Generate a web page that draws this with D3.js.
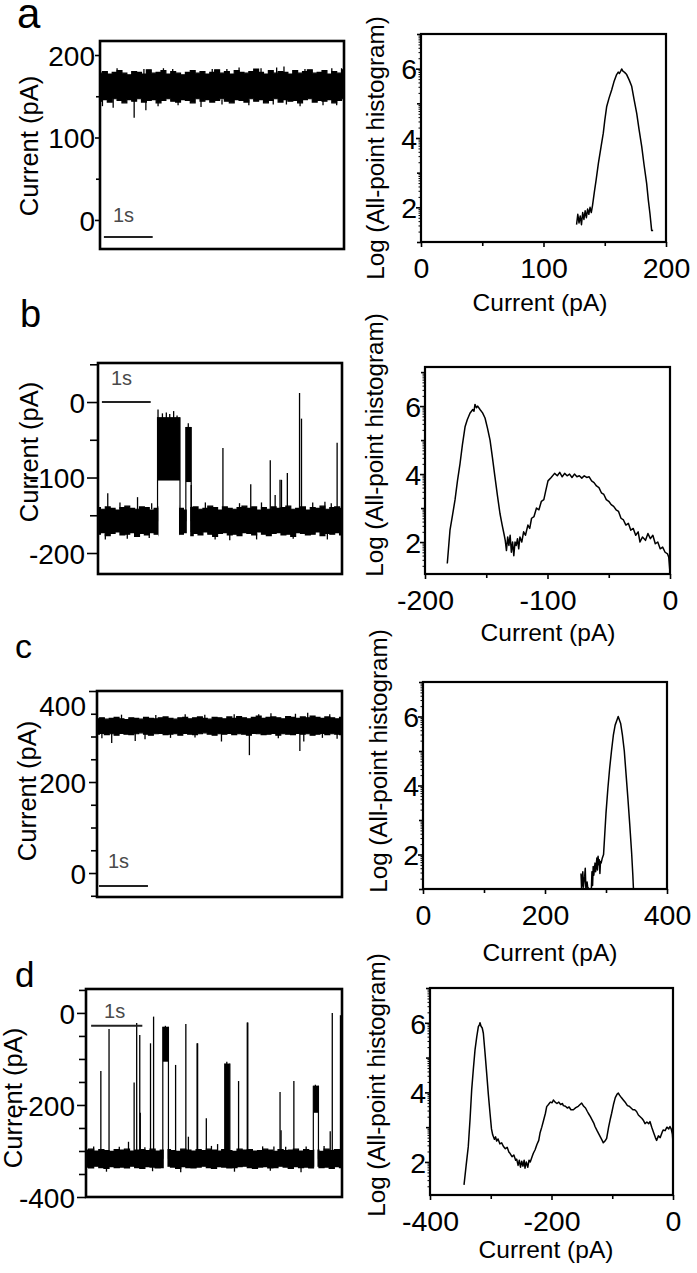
<!DOCTYPE html>
<html><head><meta charset="utf-8">
<script src="https://cdn.jsdelivr.net/npm/d3@7"></script>
<style>
body{margin:0;background:#fff;}
svg text{font-family:"Liberation Sans",Arial,sans-serif;fill:#000;}
</style></head>
<body><svg id="chart" width="697" height="1273"></svg>
<script>
// ---------------- DATA ----------------
const panelLetters = ["a", "b", "c", "d"];
const traceYLabel = "Current (pA)";
const histYLabel = "Log (All-point histogram)";
const histXLabel = "Current (pA)";
const scaleBarText = "1s";
const scaleBarSeconds = 1;
const traceDuration = 5;   // s, each trace window

// baseline noise envelopes (pA), sampled every 0.1 s from 0 to 5 s
const aHi = [178,180,177,179,181,178,176,180,179,177,182,178,179,181,177,180,178,176,179,181,178,180,177,179,182,178,180,177,181,179,178,180,183,179,177,181,178,180,179,177,181,178,180,182,178,179,181,177,180,178,182];
const aLo = [144,146,143,147,145,142,146,144,147,143,145,146,142,145,147,144,143,146,145,142,147,144,146,143,145,147,144,142,146,145,143,147,144,146,142,145,147,143,146,144,145,142,146,147,143,145,144,146,142,145,147];
const bHi = [-140,-142,-139,-141,-143,-140,-138,-141,-142,-139,-140,-143,-141,-139,-142,-140,-138,-141,-143,-140,-139,-142,-141,-138,-140,-143,-139,-141,-142,-140,-138,-141,-139,-143,-140,-142,-139,-141,-140,-138,-142,-141,-139,-143,-140,-141,-138,-142,-140,-139,-141];
const bLo = [-175,-173,-177,-174,-172,-176,-175,-173,-178,-174,-176,-173,-175,-177,-174,-172,-176,-175,-173,-177,-174,-176,-172,-175,-178,-174,-173,-176,-175,-177,-173,-174,-176,-172,-175,-177,-174,-173,-176,-175,-178,-173,-174,-176,-175,-172,-177,-174,-175,-173,-176];
const cHi = [339,341,338,340,342,339,337,341,340,338,342,340,339,341,343,340,338,341,342,339,341,343,340,338,342,341,339,343,340,344,341,339,342,345,340,342,343,341,339,344,342,340,343,341,345,342,340,343,341,339,342];
const cLo = [305,307,304,306,303,307,305,304,306,308,305,303,306,307,304,305,306,303,307,305,304,306,308,305,303,306,305,307,304,306,305,303,307,306,304,305,307,303,306,305,304,307,305,306,303,305,307,304,306,305,304];
const dHi = [-298,-296,-300,-297,-299,-301,-297,-298,-296,-300,-298,-297,-299,-296,-300,-298,-297,-299,-301,-296,-298,-300,-297,-299,-296,-298,-300,-297,-299,-301,-296,-298,-297,-300,-299,-296,-298,-301,-297,-299,-298,-296,-300,-297,-299,-298,-301,-296,-299,-297,-298];
const dLo = [-335,-337,-333,-336,-338,-334,-336,-335,-337,-333,-336,-338,-334,-335,-337,-336,-333,-335,-338,-334,-336,-337,-335,-333,-336,-338,-334,-335,-337,-336,-334,-333,-336,-338,-335,-334,-337,-336,-333,-335,-338,-334,-336,-335,-337,-333,-336,-335,-338,-334,-336];

// blocking events: [start s, end s, upper pA, lower pA, baseline absent (1) or not (0)]
const blocksA = [];
const blocksB = [[1.22,1.68,-20,-104,1],[1.80,1.91,-33,-106,1]];
const blocksC = [];
const blocksD = [[1.50,1.61,-30,-106,1],[2.71,2.81,-110,-318,0],[4.44,4.54,-158,-217,1]];

// spikes: [time s, from pA, to pA]
const spikesA = [[0.27,150,136],[0.70,150,124],[0.94,150,133],[1.19,150,138],[2.07,150,137],[3.82,150,140],[4.57,150,139],[1.49,175,183],[3.62,175,185],[3.77,175,186],[2.6,175,183],[4.95,175,184],
  [0.35,176,184],[0.9,176,183],[1.3,176,184],[2.3,176,183],[2.85,176,185],[3.3,176,184],[4.2,176,183],[4.75,176,184],[0.05,146,138],[1.6,146,139],[2.5,146,140],[3.05,146,139],[3.55,146,140],[4.1,146,138],[4.85,146,139]];
const spikesB = [[0.2,-150,-121],[0.81,-150,-126],[2.56,-150,-61],[3.13,-150,-109],[3.53,-150,-77],[3.63,-150,-123],[3.73,-150,-103],[3.76,-150,-103],[3.88,-150,-94],[4.13,-150,12],[4.17,-150,-22],[4.65,-150,-132],[4.9,-150,-54],
  [1.23,-40,-10],[1.32,-40,-15],[1.40,-40,-14],[1.47,-40,-16],[1.55,-40,-12],[1.62,-40,-18],[1.85,-40,-28],[1.91,-110,-172],[2.4,-170,-182],[1.05,-170,-180],
  [0.45,-142,-133],[1.1,-142,-134],[2.2,-142,-133],[2.9,-142,-134],[3.35,-142,-133],[4.4,-142,-133],[4.78,-142,-134],[0.15,-174,-182],[0.6,-174,-181],[2.7,-174,-183],[3.25,-174,-182],[4.0,-174,-181],[4.7,-174,-182]];
const spikesC = [[0.3,315,286],[0.78,315,290],[0.98,315,294],[2.54,315,289],[3.11,315,259],[4.14,315,268],[4.22,315,289],[3.3,335,349],[4.05,335,350],
  [0.5,338,348],[1.2,338,347],[1.8,338,349],[2.2,338,348],[2.8,338,349],[3.55,338,351],[4.3,338,352],[4.75,338,349],[0.1,306,296],[1.5,306,297],[2.0,306,298],[3.7,306,296],[4.6,306,297],[4.9,306,295]];
const spikesD = [[0.29,-310,-126],[0.45,-310,-35],[0.83,-310,-280],[0.94,-310,-151],[0.99,-310,-22],[1.05,-310,-48],[1.06,-310,-217],[1.26,-310,-66],[1.32,-310,-8],[1.75,-310,-113],[1.95,-310,-24],[2.0,-310,-269],[2.17,-310,-66],[2.18,-310,-66],[2.35,-310,-229],[2.57,-310,-285],[2.98,-310,-148],[3.15,-310,-21],[3.16,-310,-21],[3.67,-310,-290],[3.79,-310,-172],[3.81,-310,-255],[4.06,-310,-148],[4.77,-310,-257],[4.81,-310,0],[4.97,-310,-5],[4.98,-310,-261],
  [1.55,-60,-28],[2.75,-200,-106],[4.48,-190,-156],
  [0.15,-300,-290],[0.65,-300,-291],[1.15,-300,-292],[2.45,-300,-289],[3.45,-300,-290],[3.9,-300,-291],[4.3,-300,-290],[4.65,-300,-289],[0.4,-334,-345],[1.3,-334,-344],[1.85,-334,-346],[2.9,-334,-345],[3.6,-334,-343],[4.2,-334,-346]];

// all-point histograms: [current pA, log count]
const histA = [[127,1.5],[128,1.8],[129,1.55],[130,1.75],[131,1.5],[132,1.85],[133,1.65],[134,1.9],[135,1.7],[136,1.95],[137,1.8],[138,2.0],[139,1.85],[140,2.05],[141.5,2.44],[143,2.8],[144.8,3.27],[147,3.75],[148.8,4.14],[150,4.5],[151.6,4.91],[153.5,5.15],[155.7,5.39],[157.5,5.62],[159.7,5.83],[161,5.9],[162,5.86],[163,5.93],[163.8,5.99],[165,5.92],[166,5.9],[167.9,5.83],[170,5.67],[172,5.49],[174,5.1],[176.1,4.71],[178,4.25],[180.2,3.75],[182,3.25],[184.2,2.69],[185.6,2.2],[186.9,1.82],[188.3,1.33],[189.5,1.33]];
const histB = [[-181.8,1.37],[-179.6,2.35],[-177.5,2.8],[-175.5,3.24],[-173.5,3.8],[-171.4,4.31],[-169.5,4.85],[-167.3,5.39],[-165.5,5.6],[-163.3,5.79],[-161,5.9],[-160,5.85],[-159.2,6.05],[-158,5.95],[-157,6.0],[-155.1,5.9],[-153,5.8],[-151,5.65],[-149,5.35],[-146.9,5.0],[-145,4.5],[-142.9,3.92],[-140.8,3.35],[-138.8,2.84],[-137,2.5],[-135.3,2.2],[-134.5,2.05],[-133.5,1.75],[-132.5,2.15],[-131.5,1.9],[-130.5,2.2],[-129.5,1.7],[-128.5,2.0],[-127.5,1.6],[-126.5,2.0],[-125.5,1.9],[-124.5,2.1],[-123.5,1.8],[-122.5,2.15],[-121,2.0],[-119.5,2.3],[-118,2.2],[-116,2.5],[-114.5,2.4],[-113,2.7],[-111,2.75],[-109,3.0],[-107,2.95],[-105,3.2],[-103,3.25],[-101.5,3.5],[-99.6,3.8],[-97,3.9],[-94.2,4.02],[-92,3.95],[-90,4.05],[-88,3.92],[-86,4.02],[-84,3.95],[-82,4.0],[-80,3.9],[-78,4.0],[-76,3.92],[-74,3.95],[-72,3.88],[-70,3.95],[-68,3.9],[-66,3.92],[-64,3.8],[-62,3.75],[-60,3.65],[-58,3.6],[-56,3.45],[-54,3.4],[-52,3.25],[-50,3.2],[-48,3.1],[-46,3.05],[-44,2.95],[-42,2.9],[-40,2.7],[-38,2.65],[-36,2.5],[-34,2.55],[-32,2.35],[-30,2.4],[-28,2.2],[-26,2.3],[-24.5,2.0],[-22.5,2.15],[-20,2.05],[-18,2.25],[-16,2.1],[-14,2.2],[-12,1.95],[-10,2.0],[-8,1.8],[-6,1.85],[-4,1.7],[-2,1.65],[-1,1.55],[0,1.1]];
const histC = [[259,1.45],[260,1.0],[262,1.5],[263,1.05],[265,1.35],[266,1.6],[267,1.0],[269,1.2],[270,1.05],[272,1.0],[276,1.0],[277,1.5],[278,1.1],[279,1.65],[280,1.4],[282,1.75],[283,1.5],[285,1.9],[286,1.55],[287,1.95],[288,1.7],[289,1.85],[290,1.45],[291,1.8],[292,1.75],[294,1.9],[296,2.0],[298,2.6],[300,3.2],[303,3.9],[306,4.5],[309,5.0],[312,5.45],[315,5.75],[318,5.9],[320,6.0],[322,5.9],[324,5.8],[327,5.45],[330,5.0],[333,4.3],[336,3.6],[339,2.85],[342,2.05],[344,1.4],[345,1.0]];
const histD = [[-344,1.34],[-340.5,1.9],[-337,2.44],[-334,3.25],[-331.4,4.07],[-328.5,4.7],[-325.9,5.22],[-323,5.6],[-320.4,5.89],[-318.5,5.95],[-317.7,6.0],[-316,5.9],[-314,5.85],[-312.2,5.7],[-309.5,5.15],[-306.7,4.55],[-304,3.95],[-301.2,3.4],[-298.8,2.95],[-296.8,2.78],[-294,2.65],[-292,2.72],[-290.3,2.6],[-288,2.66],[-285,2.52],[-282,2.55],[-279.3,2.45],[-276,2.38],[-273,2.42],[-270,2.28],[-268.3,2.25],[-265,2.15],[-262,2.2],[-259,2.05],[-257.3,2.08],[-255,1.9],[-253,2.05],[-251,1.85],[-249,2.02],[-247,1.88],[-245,2.05],[-243.6,1.82],[-241.5,2.0],[-239,1.85],[-237,2.05],[-235,2.0],[-232,2.15],[-229.9,2.25],[-227,2.35],[-224,2.5],[-221,2.62],[-218.9,2.83],[-216,3.0],[-213,3.2],[-210,3.4],[-207.9,3.59],[-205,3.65],[-202,3.72],[-199,3.7],[-196.9,3.78],[-194,3.72],[-191,3.68],[-188,3.72],[-185,3.65],[-182,3.68],[-180.5,3.62],[-177,3.6],[-174,3.55],[-171,3.58],[-168,3.5],[-164,3.5],[-160,3.56],[-156,3.6],[-153,3.65],[-150.3,3.69],[-147,3.6],[-144,3.55],[-141,3.45],[-139.4,3.4],[-136,3.3],[-133,3.2],[-130,3.1],[-128.4,3.02],[-125,2.9],[-122,2.8],[-119,2.7],[-116,2.6],[-114.7,2.55],[-112,2.6],[-109.2,2.68],[-106,3.0],[-103,3.25],[-101,3.4],[-98,3.65],[-95,3.85],[-92,3.95],[-90,3.98],[-88,3.92],[-85,3.85],[-81.8,3.78],[-78,3.7],[-75,3.62],[-72,3.6],[-69,3.55],[-66,3.5],[-63,3.5],[-60,3.45],[-57,3.35],[-54,3.3],[-51,3.25],[-48.9,3.2],[-46,3.1],[-43,3.15],[-40,3.1],[-37.9,3.16],[-35,3.0],[-32,2.85],[-29,2.7],[-27,2.62],[-24,2.75],[-21,2.7],[-18,2.85],[-16,2.92],[-13,2.9],[-10,3.0],[-7,2.95],[-5,3.02],[-3,2.95],[-1,2.8],[0,2.55]];

// tick values
const traceMajorA = [0, 100, 200], traceMinorA = [50, 150];
const traceMajorB = [-200, -100, 0], traceMinorB = [-150, -50, 50];
const traceMajorC = [0, 200, 400], traceMinorC = [-50, 50, 100, 150, 250, 300, 350];
const traceMajorD = [-400, -200, 0], traceMinorD = [-350, -300, -250, -150, -100, -50, 50];
const histXMajorA = [0, 100, 200], histXMinorA = [50, 150];
const histXMajorB = [-200, -100, 0], histXMinorB = [-150, -50];
const histXMajorC = [0, 200, 400], histXMinorC = [100, 300];
const histXMajorD = [-400, -200, 0], histXMinorD = [-300, -100];
const histYMajor = [2, 4, 6], histYMid = [1, 3, 5, 7];

// ---------------- LAYOUT ----------------
const svg = d3.select("#chart");
const font = '"Liberation Sans", Arial, sans-serif';

const traceLayout = [
  {letter:{x:17,y:28,s:42}, x0:100,x1:344,y0:41,y1:249, yDom:[-35.2,217], tick:5, minor:4, pad:0, labX:29, labY:146, sb:{t:0.08,v:-20.6}, sbText:{dx:9,dy:-15}, nudge:{}},
  {letter:{x:20,y:327,s:38}, x0:98,x1:342,y0:363,y1:574, yDom:[-227.8,51.7], tick:11, minor:8, pad:2, labX:29, labY:452, sb:{t:0.08,v:0}, sbText:{dx:9,dy:-17}, nudge:{}},
  {letter:{x:15,y:658,s:34}, x0:97,x1:342,y0:691,y1:897, yDom:[-52.7,400], tick:8, minor:6, pad:3, labX:27, labY:791, sb:{t:0.04,v:-28.6}, sbText:{dx:9,dy:-18}, nudge:{400:14}},
  {letter:{x:15,y:987,s:35}, x0:86,x1:342,y0:989,y1:1197, yDom:[-400,52], tick:9, minor:7, pad:2, labX:13, labY:1098, sb:{t:0.1,v:-28}, sbText:{dx:13,dy:-8}, nudge:{}}
];
const histLayout = [
  {x0:421,x1:666,y0:34,y1:242, xDom:[0,200], yDom:[1,7], labX:375, labY:148, xlabX:540, xlabY:302},
  {x0:425,x1:670,y0:367,y1:574, xDom:[-200,0], yDom:[1.06,7.15], labX:374, labY:445, xlabX:548, xlabY:632},
  {x0:423,x1:667,y0:682,y1:889, xDom:[0,400], yDom:[1,7], labX:378, labY:761, xlabX:550, xlabY:952},
  {x0:430,x1:673,y0:988,y1:1195, xDom:[-400,0], yDom:[1.05,7], labX:376, labY:1085, xlabX:546, xlabY:1249}
];

const envHi = [aHi, bHi, cHi, dHi];
const envLo = [aLo, bLo, cLo, dLo];
const blocks = [blocksA, blocksB, blocksC, blocksD];
const spikes = [spikesA, spikesB, spikesC, spikesD];
const traceMajor = [traceMajorA, traceMajorB, traceMajorC, traceMajorD];
const traceMinor = [traceMinorA, traceMinorB, traceMinorC, traceMinorD];
const hists = [histA, histB, histC, histD];
const hxMajor = [histXMajorA, histXMajorB, histXMajorC, histXMajorD];
const hxMinor = [histXMinorA, histXMinorB, histXMinorC, histXMinorD];

function styleAxis(g, size) {
  g.select(".domain").remove();
  g.selectAll(".tick line").attr("stroke", "#000").attr("stroke-width", 1.6);
  g.selectAll(".tick text").attr("font-family", font).attr("font-size", size).attr("fill", "#000");
}

function drawTrace(i) {
  const L = traceLayout[i];
  const g = svg.append("g");
  const hi = envHi[i], lo = envLo[i];
  const n = hi.length;
  const x = d3.scaleLinear().domain([0, traceDuration]).range([L.x0, L.x1]);
  const xi = d3.scaleLinear().domain([0, n - 1]).range([L.x0, L.x1]);  // sample index -> px
  const y = d3.scaleLinear().domain(L.yDom).range([L.y1, L.y0]);

  svg.append("text").attr("x", L.letter.x).attr("y", L.letter.y)
    .attr("font-size", L.letter.s).text(panelLetters[i]);

  const gm = g.append("g").attr("transform", `translate(${L.x0},0)`)
    .call(d3.axisLeft(y).tickValues(traceMinor[i]).tickSize(L.minor).tickFormat(""));
  styleAxis(gm, 28);
  const ga = g.append("g").attr("transform", `translate(${L.x0},0)`)
    .call(d3.axisLeft(y).tickValues(traceMajor[i]).tickSize(L.tick).tickPadding(L.pad).tickFormat(d => String(d)));
  styleAxis(ga, 28);
  ga.selectAll(".tick text").attr("dy", "0.36em")
    .attr("transform", d => L.nudge[d] ? `translate(0,${L.nudge[d]})` : null);

  // baseline noise band
  const area = d3.area().curve(d3.curveStep)
    .x((d, k) => xi(k)).y0((d, k) => y(lo[k])).y1((d, k) => y(hi[k]));
  g.append("path").datum(hi).attr("d", area)
    .attr("fill", "#000").attr("stroke", "#000").attr("stroke-width", 1.2);

  // blocks: mask baseline where absent, then draw the blocked level band
  const bl = blocks[i];
  g.selectAll(".mask").data(bl.filter(b => b[4])).join("rect")
    .attr("x", b => x(b[0]) + 1).attr("width", b => Math.max(0, x(b[1]) - x(b[0]) - 2))
    .attr("y", y(d3.max(hi)) - 3).attr("height", y(d3.min(lo)) - y(d3.max(hi)) + 6)
    .attr("fill", "#fff");
  g.selectAll(".blk").data(bl).join("rect")
    .attr("x", b => x(b[0])).attr("width", b => x(b[1]) - x(b[0]))
    .attr("y", b => y(b[2])).attr("height", b => y(b[3]) - y(b[2]))
    .attr("fill", "#000");
  g.selectAll(".edge").data(bl.flatMap(b => [[b[0], b[2]], [b[1], b[2]]])).join("line")
    .attr("x1", d => x(d[0])).attr("x2", d => x(d[0]))
    .attr("y1", d => y(d[1])).attr("y2", y((d3.max(hi) + d3.min(lo)) / 2))
    .attr("stroke", "#000").attr("stroke-width", 1.2);

  g.selectAll(".spk").data(spikes[i]).join("line")
    .attr("x1", d => x(d[0])).attr("x2", d => x(d[0]))
    .attr("y1", d => y(d[1])).attr("y2", d => y(d[2]))
    .attr("stroke", "#000").attr("stroke-width", 1.3);

  // scale bar
  const sbx = x(L.sb.t), sbx2 = x(L.sb.t + scaleBarSeconds), sby = y(L.sb.v);
  g.append("line").attr("x1", sbx).attr("x2", sbx2).attr("y1", sby).attr("y2", sby)
    .attr("stroke", "#222").attr("stroke-width", 2);
  g.append("text").attr("x", sbx + L.sbText.dx).attr("y", sby + L.sbText.dy)
    .attr("font-family", "Lato, 'Open Sans', sans-serif").attr("font-size", 20)
    .style("fill", "#4a4a4a").text(scaleBarText);

  g.append("rect").attr("x", L.x0).attr("y", L.y0).attr("width", L.x1 - L.x0).attr("height", L.y1 - L.y0)
    .attr("fill", "none").attr("stroke", "#000").attr("stroke-width", 2.6);

  svg.append("text").attr("transform", `translate(${L.labX},${L.labY}) rotate(-90)`)
    .attr("text-anchor", "middle").attr("dominant-baseline", "central")
    .attr("font-size", 25.5).text(traceYLabel);
}

function drawHist(i) {
  const H = histLayout[i];
  const g = svg.append("g");
  const x = d3.scaleLinear().domain(H.xDom).range([H.x0, H.x1]);
  const y = d3.scaleLinear().domain(H.yDom).range([H.y1, H.y0]);

  const logMinor = [];
  for (let n = 1; n < 7; n++) for (let k = 2; k <= 9; k++) {
    const v = n + Math.log10(k);
    if (v >= H.yDom[0] && v <= H.yDom[1]) logMinor.push(v);
  }
  const gl = g.append("g").attr("transform", `translate(${H.x0},0)`)
    .call(d3.axisLeft(y).tickValues(logMinor).tickSize(2.5).tickFormat(""));
  styleAxis(gl, 28);
  gl.selectAll(".tick line").attr("stroke-width", 1);
  const gmid = g.append("g").attr("transform", `translate(${H.x0},0)`)
    .call(d3.axisLeft(y).tickValues(histYMid.filter(v => v >= H.yDom[0] && v <= H.yDom[1])).tickSize(4).tickFormat(""));
  styleAxis(gmid, 28);
  const gy = g.append("g").attr("transform", `translate(${H.x0},0)`)
    .call(d3.axisLeft(y).tickValues(histYMajor).tickSize(5).tickPadding(-1).tickFormat(d => String(d)));
  styleAxis(gy, 28.5);
  gy.selectAll(".tick text").attr("dy", "0.36em");

  const gxm = g.append("g").attr("transform", `translate(0,${H.y1})`)
    .call(d3.axisBottom(x).tickValues(hxMinor[i]).tickSize(4).tickFormat(""));
  styleAxis(gxm, 28);
  const gx = g.append("g").attr("transform", `translate(0,${H.y1})`)
    .call(d3.axisBottom(x).tickValues(hxMajor[i]).tickSize(5).tickPadding(11).tickFormat(d => String(d)));
  styleAxis(gx, 28.5);

  const line = d3.line().x(d => x(d[0])).y(d => y(d[1]));
  g.append("path").datum(hists[i]).attr("d", line)
    .attr("fill", "none").attr("stroke", "#000").attr("stroke-width", 1.5).attr("stroke-linejoin", "round");

  g.append("rect").attr("x", H.x0).attr("y", H.y0).attr("width", H.x1 - H.x0).attr("height", H.y1 - H.y0)
    .attr("fill", "none").attr("stroke", "#000").attr("stroke-width", 2.2);

  svg.append("text").attr("transform", `translate(${H.labX},${H.labY}) rotate(-90)`)
    .attr("text-anchor", "middle").attr("dominant-baseline", "central")
    .attr("font-size", 24.2).text(histYLabel);
  svg.append("text").attr("x", H.xlabX).attr("y", H.xlabY)
    .attr("text-anchor", "middle").attr("dominant-baseline", "central")
    .attr("font-size", 24.5).text(histXLabel);
}

for (let i = 0; i < 4; i++) { drawTrace(i); drawHist(i); }
</script>
</body></html>
